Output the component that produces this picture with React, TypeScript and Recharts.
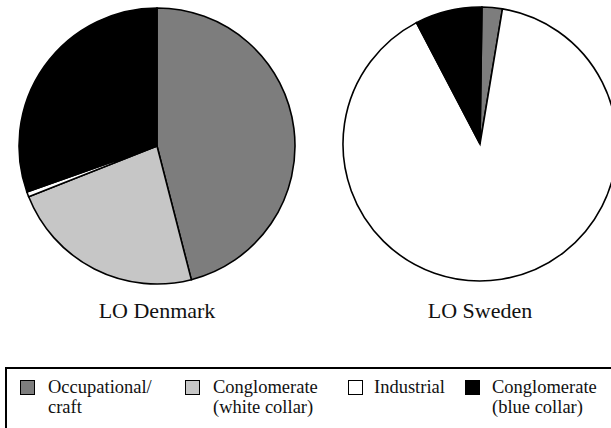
import { PieChart, Pie, Cell } from "recharts";

const categories = [
  "Occupational/craft",
  "Conglomerate (white collar)",
  "Industrial",
  "Conglomerate (blue collar)",
];
const legendLines = [
  ["Occupational/", "craft"],
  ["Conglomerate", "(white collar)"],
  ["Industrial"],
  ["Conglomerate", "(blue collar)"],
];
const denmarkShares = [46, 23, 0.6, 30.4];
const swedenShares = [2.4, 0, 89.7, 7.9];
const pieTitles = ["LO Denmark", "LO Sweden"];

const fills = ["#7d7d7d", "#c6c6c6", "#ffffff", "#000000"];
const serif = "Liberation Serif";

const denmarkData = categories.map((name, i) => ({ name, value: denmarkShares[i] }));
const swedenData = categories
  .map((name, i) => ({ name, value: swedenShares[i], idx: i }))
  .filter((d) => d.value > 0);

const legendX = [20, 185, 348, 465];
const textX = [48, 213, 374, 492];

export default function App() {
  return (
    <div
      style={{
        position: "absolute",
        left: 0,
        top: 0,
        width: 611,
        height: 428,
        overflow: "hidden",
        background: "#fff",
      }}
    >
      <div style={{ position: "absolute", left: 0, top: 0 }}>
        <PieChart width={611} height={300} margin={{ top: 0, right: 0, bottom: 0, left: 0 }}>
          <Pie
            data={denmarkData}
            dataKey="value"
            cx={157}
            cy={146}
            outerRadius={138}
            startAngle={90}
            endAngle={-270}
            stroke="#000"
            strokeWidth={1.6}
            isAnimationActive={false}
          >
            {denmarkData.map((d, i) => (
              <Cell key={d.name} fill={fills[i]} />
            ))}
          </Pie>
          <Pie
            data={swedenData}
            dataKey="value"
            cx={480}
            cy={144}
            outerRadius={137}
            startAngle={89.2}
            endAngle={-270.8}
            stroke="#000"
            strokeWidth={1.6}
            isAnimationActive={false}
          >
            {swedenData.map((d) => (
              <Cell key={d.name} fill={fills[d.idx]} />
            ))}
          </Pie>
        </PieChart>
      </div>

      {pieTitles.map((t, i) => (
        <div
          key={t}
          style={{
            position: "absolute",
            left: (i === 0 ? 157 : 480) - 100,
            width: 200,
            top: 300,
            lineHeight: "22px",
            fontSize: 22,
            fontFamily: serif,
            textAlign: "center",
            color: "#111",
          }}
        >
          {t}
        </div>
      ))}

      <div
        style={{
          position: "absolute",
          left: 5,
          top: 367,
          width: 640,
          height: 100,
          border: "2px solid #000",
          boxSizing: "border-box",
        }}
      />

      {legendLines.map((lines, i) => (
        <div key={i}>
          <div
            style={{
              position: "absolute",
              left: legendX[i],
              top: 380,
              width: 15,
              height: 15,
              boxSizing: "border-box",
              border: "1.5px solid #000",
              background: fills[i],
            }}
          />
          <div
            style={{
              position: "absolute",
              left: textX[i],
              top: 377,
              fontSize: 18.5,
              lineHeight: "20px",
              fontFamily: serif,
              color: "#111",
              whiteSpace: "nowrap",
            }}
          >
            {lines.map((l) => (
              <div key={l}>{l}</div>
            ))}
          </div>
        </div>
      ))}
    </div>
  );
}
